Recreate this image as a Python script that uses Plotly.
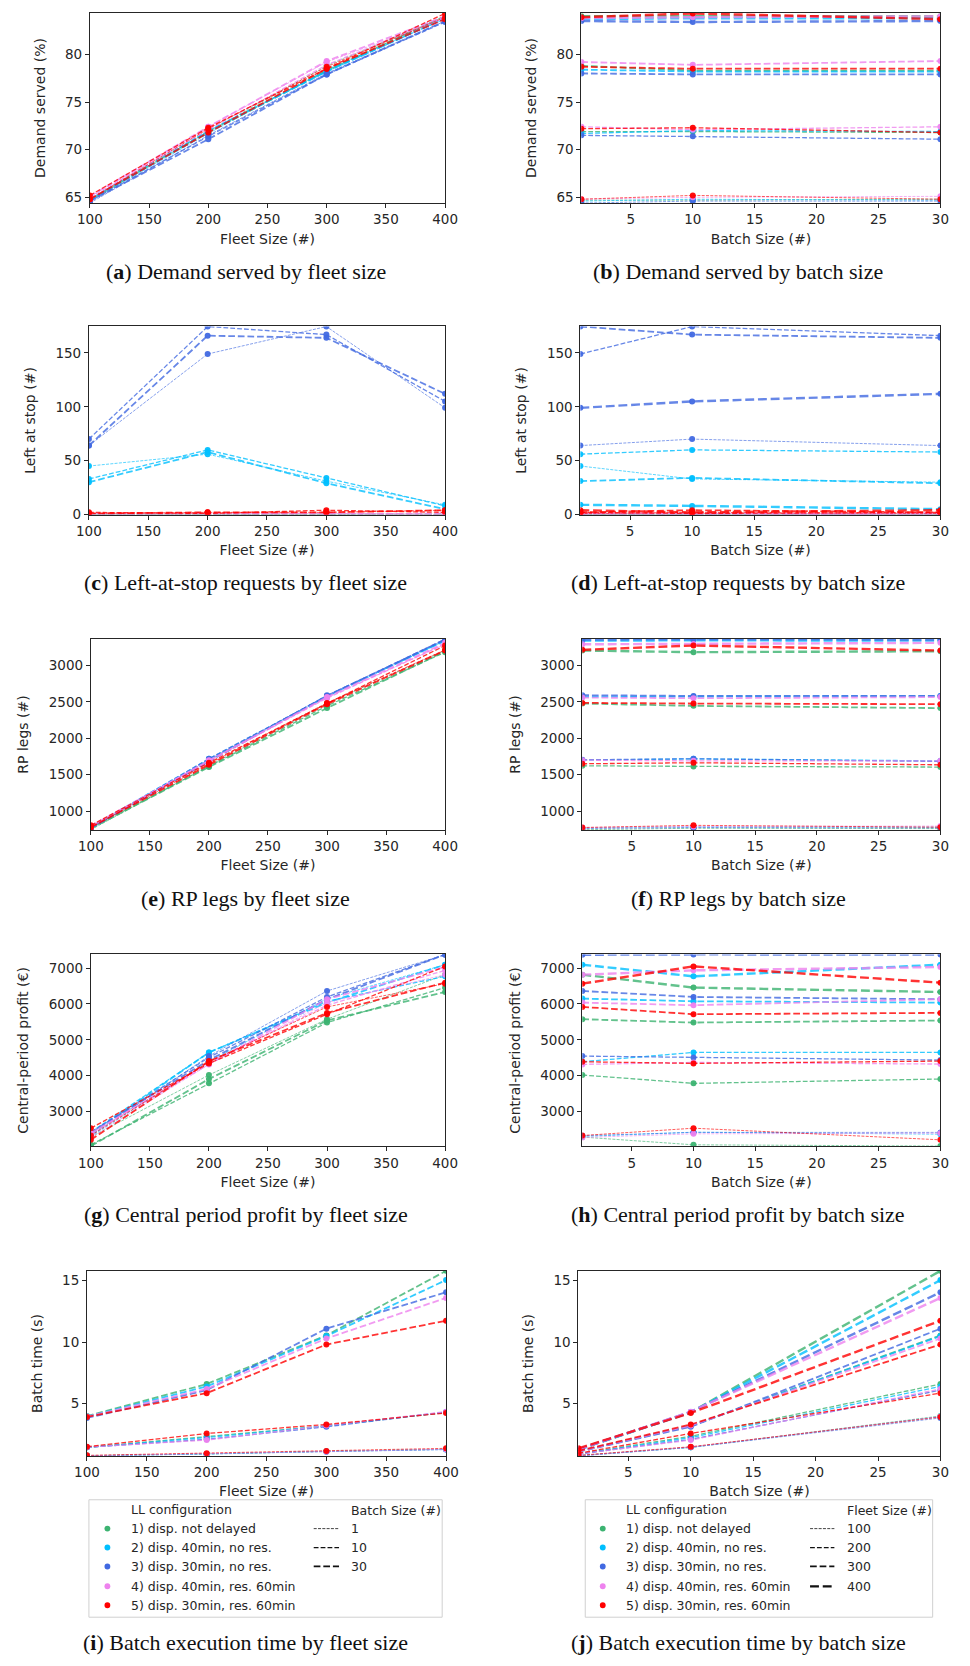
import plotly.graph_objects as go

W, H = 970, 1666

FLEET = [100, 200, 300, 400]
BATCH = [1, 10, 30]
CONFIGS = ["1) disp. not delayed", "2) disp. 40min, no res.", "3) disp. 30min, no res.",
           "4) disp. 40min, res. 60min", "5) disp. 30min, res. 60min"]
COLORS = ["#3CB371", "#00BFFF", "#4169E1", "#EE82EE", "#FF0000"]

# Each table: rows = fleet size (100,200,300,400), columns = batch size (1,10,30)
DEMAND_1 = [[64.7, 64.7, 64.8], [71.9, 71.9, 71.8], [78.8, 78.3, 78.3], [84.0, 84.0, 84.0]]
DEMAND_2 = [[64.6, 64.8, 64.7], [71.7, 72.0, 71.9], [78.4, 78.2, 78.2], [83.7, 83.8, 83.8]]
DEMAND_3 = [[64.4, 64.6, 64.6], [71.5, 71.4, 71.1], [78.0, 77.9, 77.9], [83.5, 83.4, 83.5]]
DEMAND_4 = [[64.8, 65.0, 65.1], [72.4, 72.1, 72.4], [79.2, 78.9, 79.3], [83.8, 83.9, 84.0]]
DEMAND_5 = [[64.8, 65.2, 64.8], [72.2, 72.3, 71.8], [78.7, 78.5, 78.5], [83.9, 84.3, 83.7]]

LEFT_1 = [[0, 0, 0], [0, 0, 0], [0, 0, 0], [0, 0, 0]]
LEFT_2 = [[45, 33, 30], [56, 60, 58], [31, 34, 29], [9, 8, 5]]
LEFT_3 = [[64, 70, 64], [149, 174.5, 166], [174.5, 167, 164], [99, 105, 112]]
LEFT_4 = [[0, 1, 0], [1, 0, 1], [1, 1, 0], [0, 0, 1]]
LEFT_5 = [[1, 2, 1], [2, 1, 2], [2, 4, 2], [4, 2, 4]]

LEGS_1 = [[745, 765, 760], [1623, 1614, 1605], [2477, 2445, 2414], [3205, 3182, 3195]]
LEGS_2 = [[770, 785, 780], [1700, 1718, 1690], [2570, 2575, 2580], [3340, 3345, 3340]]
LEGS_3 = [[760, 775, 770], [1705, 1718, 1682], [2591, 2582, 2582], [3355, 3360, 3355]]
LEGS_4 = [[775, 790, 795], [1700, 1690, 1690], [2559, 2550, 2565], [3290, 3295, 3310]]
LEGS_5 = [[775, 805, 780], [1650, 1664, 1636], [2486, 2477, 2468], [3214, 3273, 3205]]

PROFIT_1 = [[2290, 2074, 2040], [4019, 3787, 3907], [5574, 5481, 5537], [6815, 6454, 6333]]
PROFIT_2 = [[2306, 2426, 2370], [4389, 4648, 4648], [6148, 6074, 6037], [7093, 6769, 7093]]
PROFIT_3 = [[2330, 2420, 2420], [4546, 4509, 4435], [6361, 6194, 6130], [7370, 7380, 7375]]
PROFIT_4 = [[2278, 2380, 2398], [4315, 4370, 4324], [6037, 5963, 6130], [6815, 6935, 7028]]
PROFIT_5 = [[2333, 2537, 2213], [4389, 4343, 4407], [5917, 5713, 5750], [6565, 7046, 6593]]

BTIME_1 = [[0.78, 1.45, 4.0], [0.92, 2.35, 6.6], [1.13, 3.2, 10.55], [1.3, 4.3, 15.8]]
BTIME_2 = [[0.77, 1.45, 3.95], [0.9, 2.25, 6.4], [1.12, 3.2, 10.5], [1.28, 4.3, 15.05]]
BTIME_3 = [[0.75, 1.45, 3.84], [0.9, 2.1, 6.1], [1.1, 3.12, 11.1], [1.27, 4.33, 14.06]]
BTIME_4 = [[0.77, 1.47, 3.95], [0.92, 2.04, 6.2], [1.12, 3.22, 10.3], [1.3, 4.35, 13.6]]
BTIME_5 = [[0.8, 1.5, 3.92], [0.97, 2.58, 5.86], [1.16, 3.31, 9.81], [1.37, 4.25, 11.75]]

Y_TITLES = ["Demand served (%)", "Left at stop (#)", "RP legs (#)",
            "Central-period profit (€)", "Batch time (s)"]
CAPTIONS = [("a", "Demand served by fleet size"), ("b", "Demand served by batch size"),
            ("c", "Left-at-stop requests by fleet size"), ("d", "Left-at-stop requests by batch size"),
            ("e", "RP legs by fleet size"), ("f", "RP legs by batch size"),
            ("g", "Central period profit by fleet size"), ("h", "Central period profit by batch size"),
            ("i", "Batch execution time by fleet size"), ("j", "Batch execution time by batch size")]

METRICS = [
    ([DEMAND_1, DEMAND_2, DEMAND_3, DEMAND_4, DEMAND_5], [64.4, 84.35], 65, 5),
    ([LEFT_1, LEFT_2, LEFT_3, LEFT_4, LEFT_5], [0, 174.6], 0, 50),
    ([LEGS_1, LEGS_2, LEGS_3, LEGS_4, LEGS_5], [741, 3364], 1000, 500),
    ([PROFIT_1, PROFIT_2, PROFIT_3, PROFIT_4, PROFIT_5], [2028, 7380], 3000, 1000),
    ([BTIME_1, BTIME_2, BTIME_3, BTIME_4, BTIME_5], [0.75, 15.8], 5, 5),
]

# style
LW_BATCH = [0.8, 1.3, 1.8]
LW_FLEET = [0.8, 1.3, 1.8, 2.4]


def dash_for(w):
    return f"{3.7 * w:.1f}px,{1.6 * w:.1f}px"


def rgba(hexc, a):
    h = hexc.lstrip("#")
    return f"rgba({int(h[0:2], 16)},{int(h[2:4], 16)},{int(h[4:6], 16)},{a})"


# layout geometry (pixels)
ROWS_Y = [(13, 204), (328, 517), (642, 834), (959, 1152), (1277, 1463)]
LEFT_X = [(79, 444), (78, 444), (80, 444), (80, 444), (76, 445)]
RIGHT_X = [(584, 953), (583, 953), (585, 953), (585, 953), (581, 953)]
CAP_Y = [273, 585, 903, 1220, 1650]


def px(x):
    return x / W


def py(y):
    return 1 - y / H


fig = go.Figure()
layout_axes = {}
axis_common = dict(showline=True, mirror=True, linecolor="#262626", linewidth=1,
                   ticks="outside", ticklen=4, tickwidth=1, tickcolor="#262626",
                   showgrid=False, zeroline=False,
                   tickfont=dict(family="DejaVu Sans", size=13.5, color="#262626"))
title_font = dict(family="DejaVu Sans", size=14, color="#262626")

for r, (tables, yr, t0, dt) in enumerate(METRICS):
    for c in range(2):
        k = r * 2 + c
        n = k + 1
        xa = "x" if n == 1 else f"x{n}"
        ya = "y" if n == 1 else f"y{n}"
        xs = LEFT_X[r] if c == 0 else RIGHT_X[r]
        top, bot = ROWS_Y[r]
        xkey = "xaxis" if n == 1 else f"xaxis{n}"
        ykey = "yaxis" if n == 1 else f"yaxis{n}"
        if c == 0:
            xaxis = dict(domain=[px(xs[0]), px(xs[1])], range=[100, 400], tick0=100, dtick=50,
                         title=dict(text="Fleet Size (#)", standoff=7, font=title_font))
        else:
            xaxis = dict(domain=[px(xs[0]), px(xs[1])], range=[1, 30], tick0=0, dtick=5,
                         title=dict(text="Batch Size (#)", standoff=7, font=title_font))
        xaxis.update(axis_common)
        xaxis["anchor"] = ya
        yaxis = dict(domain=[py(bot), py(top)], range=yr, tick0=t0, dtick=dt, anchor=xa,
                     title=dict(text=Y_TITLES[r], standoff=16, font=title_font))
        yaxis.update(axis_common)
        layout_axes[xkey] = xaxis
        layout_axes[ykey] = yaxis

        for ci, tab in enumerate(tables):
            col = COLORS[ci]
            if c == 0:
                for bi, b in enumerate(BATCH):
                    w = LW_BATCH[bi]
                    fig.add_trace(go.Scatter(
                        x=FLEET, y=[tab[fi][bi] for fi in range(len(FLEET))],
                        mode="lines+markers", xaxis=xa, yaxis=ya, showlegend=False,
                        line=dict(color=rgba(col, 0.8), width=w, dash=dash_for(w)),
                        marker=dict(color=rgba(col, 0.95), size=6),
                        name=f"{CONFIGS[ci]} / batch {b}"))
            else:
                for fi, f in enumerate(FLEET):
                    w = LW_FLEET[fi]
                    fig.add_trace(go.Scatter(
                        x=BATCH, y=tab[fi],
                        mode="lines+markers", xaxis=xa, yaxis=ya, showlegend=False,
                        line=dict(color=rgba(col, 0.8), width=w, dash=dash_for(w)),
                        marker=dict(color=rgba(col, 0.95), size=6),
                        name=f"{CONFIGS[ci]} / fleet {f}"))

annotations = []
shapes = []

# captions
for k, (letter, txt) in enumerate(CAPTIONS):
    r, c = k // 2, k % 2
    cx = 239 if c == 0 else 745
    annotations.append(dict(
        xref="paper", yref="paper", x=px(cx), y=py(CAP_Y[r]), xanchor="center", yanchor="middle",
        text=f"(<b>{letter}</b>) {txt}", showarrow=False,
        font=dict(family="Liberation Serif", size=22, color="#111111")))

# legends (drawn under panels i and j)
LEG_ROWS = [1536, 1555, 1574, 1594, 1613]
legend_specs = [
    dict(box=(78, 441), mx=97, tx=119, lx=(309, 335), ltx=345, head="Batch Size (#)",
         labels=[str(b) for b in BATCH], widths=LW_BATCH),
    dict(box=(588, 945), mx=606, tx=628, lx=(819, 844), ltx=855, head="Fleet Size (#)",
         labels=[str(f) for f in FLEET], widths=LW_FLEET),
]
leg_font = dict(family="DejaVu Sans", size=12.5, color="#262626")
for spec in legend_specs:
    x0, x1 = spec["box"]
    shapes.append(dict(type="rect", xref="paper", yref="paper",
                       x0=px(x0), x1=px(x1), y0=py(1625), y1=py(1507),
                       line=dict(color="#d0d0d0", width=1), fillcolor="rgba(255,255,255,0.8)"))
    annotations.append(dict(xref="paper", yref="paper", x=px(spec["tx"]), y=py(1517),
                            xanchor="left", yanchor="middle", text="LL configuration",
                            showarrow=False, font=leg_font))
    annotations.append(dict(xref="paper", yref="paper", x=px(spec["ltx"]), y=py(1518),
                            xanchor="left", yanchor="middle", text=spec["head"],
                            showarrow=False, font=leg_font))
    for i, name in enumerate(CONFIGS):
        yy = LEG_ROWS[i]
        shapes.append(dict(type="circle", xref="paper", yref="paper",
                           x0=px(spec["mx"] - 3), x1=px(spec["mx"] + 3),
                           y0=py(yy + 3), y1=py(yy - 3),
                           fillcolor=COLORS[i], line=dict(width=0)))
        annotations.append(dict(xref="paper", yref="paper", x=px(spec["tx"]), y=py(yy),
                                xanchor="left", yanchor="middle", text=name,
                                showarrow=False, font=leg_font))
    for i, lab in enumerate(spec["labels"]):
        yy = LEG_ROWS[i]
        w = spec["widths"][i]
        shapes.append(dict(type="line", xref="paper", yref="paper",
                           x0=px(spec["lx"][0]), x1=px(spec["lx"][1]), y0=py(yy), y1=py(yy),
                           line=dict(color="#111111", width=w, dash=dash_for(w))))
        annotations.append(dict(xref="paper", yref="paper", x=px(spec["ltx"]), y=py(yy),
                                xanchor="left", yanchor="middle", text=lab,
                                showarrow=False, font=leg_font))

fig.update_layout(
    width=W, height=H, margin=dict(l=0, r=0, t=0, b=0),
    paper_bgcolor="white", plot_bgcolor="white", showlegend=False,
    annotations=annotations, shapes=shapes, **layout_axes)

fig.write_html("out.html")
